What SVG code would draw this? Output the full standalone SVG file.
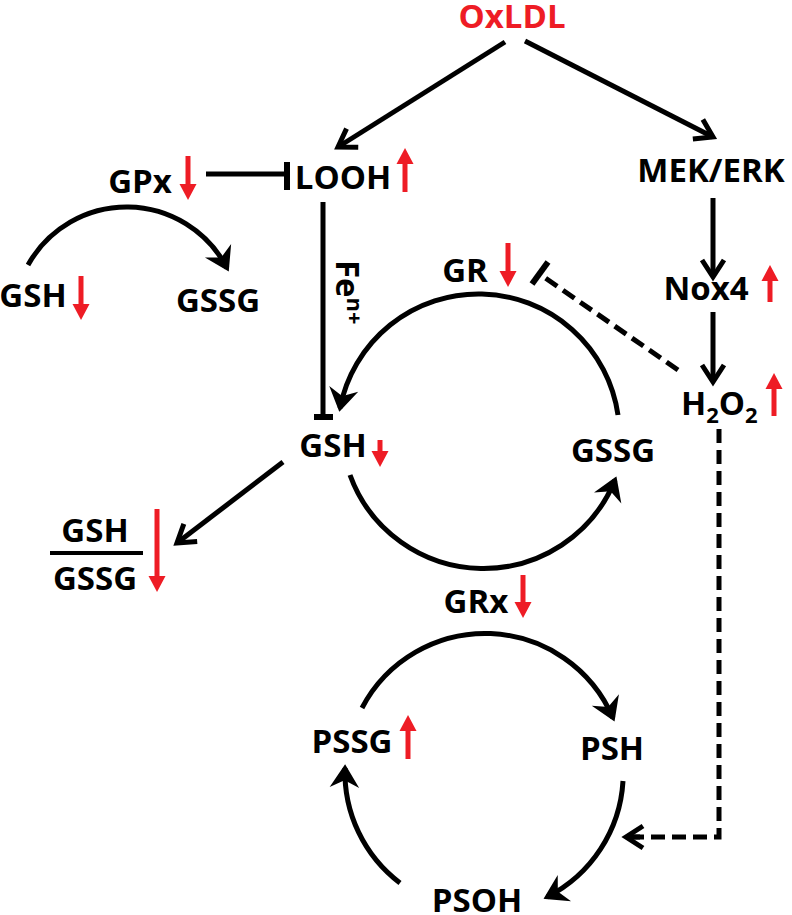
<svg xmlns="http://www.w3.org/2000/svg" width="792" height="915" viewBox="0 0 792 915">
<style>
text{font-family:"Open Sans","Liberation Sans",sans-serif;font-weight:700;font-size:33px;fill:#000}
.red{fill:#ee1c25}
.mid{text-anchor:middle}
.ln{stroke:#000;stroke-width:5;fill:none}
.dash{stroke:#000;stroke-width:5;fill:none;stroke-dasharray:14 7}
.bar{stroke:#000;stroke-width:6;fill:none}
.ra{stroke:#ee1c25;stroke-width:5;fill:none}
</style>
<defs>
<marker id="open" markerUnits="userSpaceOnUse" markerWidth="40" markerHeight="40" viewBox="-25 -20 30 40" refX="0" refY="0" orient="auto" overflow="visible">
<path d="M-17,-11 L0,0 L-17,11" stroke="#000" stroke-width="5" fill="none" stroke-linejoin="miter"/>
</marker>
<marker id="fill" markerUnits="userSpaceOnUse" markerWidth="40" markerHeight="40" viewBox="-25 -20 30 40" refX="0" refY="0" orient="auto" overflow="visible">
<path d="M2,0 L-17,-12 L-11,0 L-17,12 Z" stroke="#000" stroke-width="2" fill="#000" stroke-linejoin="miter"/>
</marker>
<marker id="redh" markerUnits="userSpaceOnUse" markerWidth="40" markerHeight="40" viewBox="-20 -20 40 40" refX="0" refY="0" orient="auto" overflow="visible">
<path d="M10,0 L-6,-8.5 L-6,8.5 Z" fill="#ee1c25"/>
</marker>
</defs>

<g id="connectors">
<line class="ln" x1="505" y1="42" x2="338" y2="147" marker-end="url(#open)"/>
<line class="ln" x1="525" y1="41" x2="713" y2="137" marker-end="url(#open)"/>
<line class="ln" x1="713" y1="198" x2="713" y2="277" marker-end="url(#open)"/>
<line class="ln" x1="713" y1="312" x2="713" y2="382" marker-end="url(#open)"/>
<line class="ln" x1="283" y1="462" x2="177" y2="543" marker-end="url(#open)"/>
<path class="dash" d="M719,429 L719,837 L630,837"/>
<path class="ln" d="M640,837 L626,837" marker-end="url(#open)"/>
<line class="ln" x1="206" y1="174" x2="287" y2="174"/>
<line class="bar" x1="287" y1="162" x2="287" y2="190"/>
<line class="ln" x1="323" y1="202" x2="323" y2="417"/>
<line class="bar" x1="314" y1="417" x2="333" y2="417"/>
<line class="dash" x1="678" y1="370" x2="541" y2="275"/>
<line class="bar" x1="532" y1="284" x2="548" y2="262"/>
<path class="ln" d="M28,265 A113 113 0 0 1 227,268" marker-end="url(#fill)"/>
<path class="ln" d="M618,415 A141 141 0 0 0 340,408" marker-end="url(#fill)"/>
<path class="ln" d="M350,475 A142 142 0 0 0 615,480" marker-end="url(#fill)"/>
<path class="ln" d="M362,708 A139 139 0 0 1 613,718" marker-end="url(#fill)"/>
<path class="ln" d="M623,781 A139 139 0 0 1 547,897" marker-end="url(#fill)"/>
<path class="ln" d="M400,883 A139 139 0 0 1 345,768" marker-end="url(#fill)"/>
</g>

<g id="oxldl"><text class="red mid" x="512" y="28">OxLDL</text></g>
<g id="looh"><text class="mid" x="343" y="189">LOOH</text>
<line class="ra" x1="405" y1="192" x2="405" y2="158" marker-end="url(#redh)"/></g>
<g id="gpx"><text class="mid" x="140" y="193">GPx</text>
<line class="ra" x1="188" y1="156" x2="188" y2="190" marker-end="url(#redh)"/></g>
<g id="mekerk"><text class="mid" x="711" y="182">MEK/ERK</text></g>
<g id="nox4"><text class="mid" x="706" y="300">Nox4</text>
<line class="ra" x1="770" y1="302" x2="770" y2="275" marker-end="url(#redh)"/></g>
<g id="h2o2"><text x="681" y="415">H<tspan font-size="22" dy="8">2</tspan><tspan dy="-8">O</tspan><tspan font-size="22" dy="8">2</tspan></text>
<line class="ra" x1="774" y1="416" x2="774" y2="383" marker-end="url(#redh)"/></g>
<g id="gr"><text class="mid" x="465" y="282">GR</text>
<line class="ra" x1="508" y1="243" x2="508" y2="277" marker-end="url(#redh)"/></g>
<g id="gsh-left"><text class="mid" x="33" y="307">GSH</text>
<line class="ra" x1="81" y1="276" x2="81" y2="310" marker-end="url(#redh)"/></g>
<g id="gssg-left"><text class="mid" x="218" y="312">GSSG</text></g>
<g id="fe"><text transform="translate(336,260) rotate(90)" font-size="31">Fe<tspan font-size="22" dy="-11">n+</tspan></text></g>
<g id="gsh"><text class="mid" x="333" y="457">GSH</text>
<line class="ra" x1="380" y1="440" x2="380" y2="457" marker-end="url(#redh)"/></g>
<g id="gssg"><text class="mid" x="613" y="462">GSSG</text></g>
<g id="ratio"><text class="mid" x="95" y="542">GSH</text>
<line x1="50" y1="553" x2="143" y2="553" stroke="#000" stroke-width="4"/>
<text class="mid" x="95" y="590">GSSG</text>
<line class="ra" x1="157" y1="509" x2="157" y2="582" marker-end="url(#redh)"/></g>
<g id="grx"><text class="mid" x="476" y="613">GRx</text>
<line class="ra" x1="523" y1="575" x2="523" y2="608" marker-end="url(#redh)"/></g>
<g id="pssg"><text class="mid" x="352" y="753">PSSG</text>
<line class="ra" x1="408" y1="759" x2="408" y2="725" marker-end="url(#redh)"/></g>
<g id="psh"><text class="mid" x="612" y="760">PSH</text></g>
<g id="psoh"><text class="mid" x="477" y="912">PSOH</text></g>
</svg>
